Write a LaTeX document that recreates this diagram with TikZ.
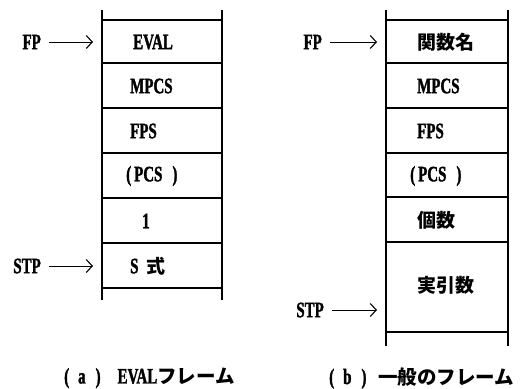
\documentclass[tikz,border=0pt]{standalone}
\usepackage{fontspec}
\usetikzlibrary{arrows.meta}
\newfontfamily\latf{Liberation Serif}[FakeStretch=0.68,FakeBold=1.5]
\newfontfamily\jpf{Noto Sans CJK JP}
\newcommand\lat{\latf\bfseries}
\newcommand\jp{\jpf\bfseries}
\begin{document}
\begin{tikzpicture}[x=1pt,y=-1pt,
  stk/.style={line width=1.6pt},
  cell/.style={anchor=west,inner sep=0pt,font=\lat\fontsize{22}{22}\selectfont},
  jcell/.style={anchor=west,inner sep=0pt,font=\jp\fontsize{19}{19}\selectfont},
  lbl/.style={inner sep=0pt,font=\lat\fontsize{22}{22}\selectfont},
  captxt/.style={anchor=west,inner sep=0pt,font=\lat\fontsize{22}{22}\selectfont},
  ptr/.style={line width=0.9pt,shorten <=8pt,-{Straight Barb[length=6pt,width=13pt,line width=1.1pt]}}]
\useasboundingbox (0,0) rectangle (521,388);
% left stack
\draw[stk] (102,10) -- (102,300) (222,10) -- (222,300);
\foreach \y in {20,63,108,153,198,243,288} \draw[stk] (102,\y) -- (222,\y);
\node[cell] (a1) at (133,42) {EVAL};
\node[cell] (a2) at (130,86) {MPCS};
\node[cell] (a3) at (130,131) {FPS};
\node[cell] (a4) at (126,176) {(\hspace{3pt}PCS\hspace{10pt})};
\node[cell] (a5) at (142,221) {1};
\node[cell] (a6) at (130,266) {S\hspace{8pt}{\jp\fontsize{19}{19}\selectfont 式}};
\node[lbl,anchor=east] (afp) at (41,42) {FP};
\coordinate (afpt) at (93,42);
\draw[ptr] (afp) -- (afpt);
\node[lbl,anchor=east] (astp) at (41,266) {STP};
\coordinate (astpt) at (93,266);
\draw[ptr] (astp) -- (astpt);
% right stack
\draw[stk] (386,10) -- (386,346) (508,10) -- (508,346);
\foreach \y in {20,63,108,153,197,242,332} \draw[stk] (386,\y) -- (508,\y);
\node[jcell] (b1) at (417,42) {関数名};
\node[cell] (b2) at (417,86) {MPCS};
\node[cell] (b3) at (417,131) {FPS};
\node[cell] (b4) at (410,176) {(\hspace{3pt}PCS\hspace{10pt})};
\node[jcell] (b5) at (417,220) {個数};
\node[jcell] (b6) at (417,285) {実引数};
\node[lbl,anchor=east] (bfp) at (322,42) {FP};
\coordinate (bfpt) at (377,42);
\draw[ptr] (bfp) -- (bfpt);
\node[lbl,anchor=east] (bstp) at (324,310) {STP};
\coordinate (bstpt) at (377,310);
\draw[ptr] (bstp) -- (bstpt);
% captions
\node[captxt] (capa) at (64,378) {(\hspace{9pt}a\hspace{10pt})\hspace{17pt}EVAL{\jp\fontsize{19.5}{19.5}\selectfont フレーム}};
\node[captxt] (capb) at (329,378) {(\hspace{9pt}b\hspace{10pt})\hspace{12pt}{\jp\fontsize{19.5}{19.5}\selectfont 一般のフレーム}};
\end{tikzpicture}
\end{document}
